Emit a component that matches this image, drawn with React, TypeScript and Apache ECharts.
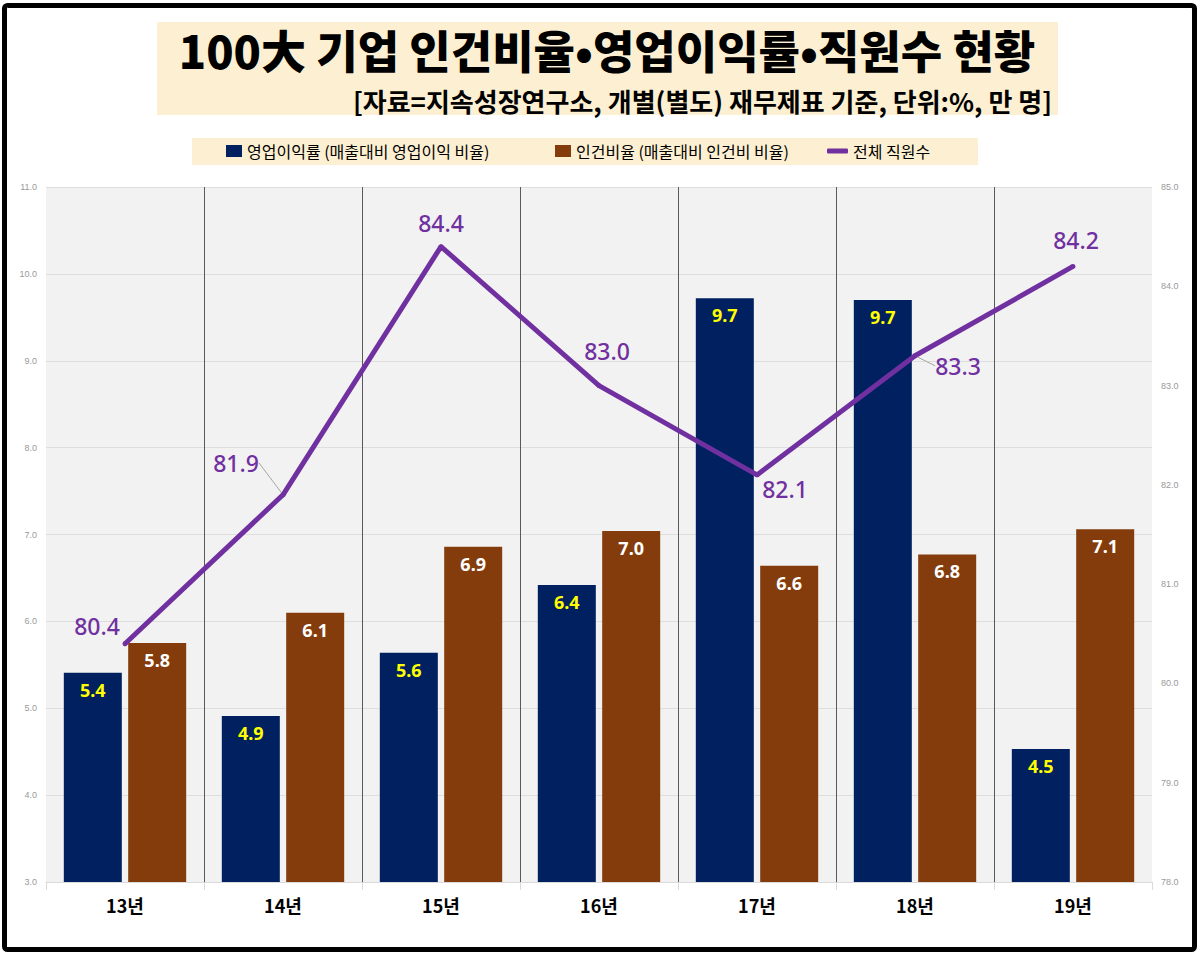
import React, { useEffect, useRef } from 'react';
import * as echarts from 'echarts';

const categories = ['13년', '14년', '15년', '16년', '17년', '18년', '19년'];
const operatingMargin = [5.41, 4.91, 5.64, 6.42, 9.72, 9.7, 4.53];
const laborCostRatio = [5.75, 6.1, 6.86, 7.04, 6.64, 6.77, 7.06];
const employees = [80.4, 81.9, 84.4, 83.0, 82.1, 83.3, 84.2];
const leaderLineIndexes = [1, 5];

const titleText = '100大 기업 인건비율•영업이익률•직원수 현황';
const subtitleText = '[자료=지속성장연구소, 개별(별도) 재무제표 기준, 단위:%, 만 명]';
const seriesNames = ['영업이익률 (매출대비 영업이익 비율)', '인건비율 (매출대비 인건비 비율)', '전체 직원수'];

const lineLabelOffsets = [[-28, 1], [-47, -13], [0, -5], [8, -16], [28, 33], [43, 29], [3, -7]];

const BLUE = '#002060';
const BROWN = '#843c0c';
const PURPLE = '#7030a0';
const CREAM = '#fdf0d2';

export default function App() {
  const ref = useRef<HTMLDivElement>(null);
  useEffect(() => {
    document.body.style.margin = '0';
    const chart = echarts.init(ref.current!, undefined, { renderer: 'svg' });
    const legendText = { fontSize: 16, color: '#000', fontFamily: '"Noto Sans CJK KR"' };
    chart.setOption({
      animation: false,
      backgroundColor: '#fff',
      graphic: [
        { type: 'rect', shape: { x: 157, y: 22, width: 901, height: 93 }, style: { fill: CREAM }, z: 0 },
        { type: 'rect', shape: { x: 192, y: 138, width: 786, height: 27 }, style: { fill: CREAM }, z: 0 },
        {
          type: 'text', x: 607, y: 49, z: 10,
          style: { text: titleText, align: 'center', verticalAlign: 'middle', fill: '#000', font: '900 45px "Noto Sans CJK KR"' },
        },
        {
          type: 'text', x: 1052, y: 100, z: 10,
          style: { text: subtitleText, align: 'right', verticalAlign: 'middle', fill: '#000', font: 'bold 26px "Noto Sans CJK KR"' },
        },
        {
          type: 'rect', z: 100,
          shape: { x: 4.5, y: 5.5, width: 1190, height: 944, r: 3 },
          style: { fill: 'none', stroke: '#000', lineWidth: 5 },
        },
      ],
      legend: [
        { data: [{ name: seriesNames[0], icon: 'rect' }], left: 226, top: 143, padding: 0, itemWidth: 16, itemHeight: 12, itemGap: 0, textStyle: legendText, selectedMode: false },
        { data: [{ name: seriesNames[1], icon: 'rect' }], left: 555, top: 143, padding: 0, itemWidth: 16, itemHeight: 12, itemGap: 0, textStyle: legendText, selectedMode: false },
        { data: [{ name: seriesNames[2], icon: 'roundRect' }], left: 827, top: 143, padding: 0, itemWidth: 21, itemHeight: 5, itemGap: 0, textStyle: legendText, selectedMode: false },
      ],
      grid: { left: 46, right: 48, top: 187, bottom: 74, show: true, backgroundColor: '#f2f2f2', borderWidth: 0 },
      xAxis: {
        type: 'category',
        data: categories,
        axisLine: { show: true, lineStyle: { color: '#d9d9d9' } },
        axisTick: { show: true, length: 8, lineStyle: { color: '#d9d9d9' } },
        axisLabel: { margin: 14, fontSize: 18, fontWeight: 'bold', color: '#000', fontFamily: '"Noto Sans CJK KR"' },
        splitLine: { show: true, showMinLine: false, showMaxLine: false, lineStyle: { color: '#595959', width: 1 } },
      },
      yAxis: [
        {
          type: 'value', min: 3, max: 11, interval: 1,
          axisLine: { show: false }, axisTick: { show: false },
          axisLabel: { margin: 9, fontSize: 9, color: '#999', formatter: (v: number) => v.toFixed(1) },
          splitLine: { show: true, lineStyle: { color: '#dedede', width: 1 } },
        },
        {
          type: 'value', min: 78, max: 85, interval: 1, position: 'right',
          axisLine: { show: false }, axisTick: { show: false },
          axisLabel: { margin: 9, fontSize: 9, color: '#999', formatter: (v: number) => v.toFixed(1) },
          splitLine: { show: false },
        },
      ],
      series: [
        {
          name: seriesNames[0], type: 'bar', data: operatingMargin, barWidth: 58, barGap: '11%',
          itemStyle: { color: BLUE },
          label: {
            show: true, position: 'insideTop', distance: 8, color: '#ffff00', fontSize: 18, fontWeight: 'bold',
            fontFamily: '"Noto Sans"', formatter: (p: any) => p.value.toFixed(1),
          },
        },
        {
          name: seriesNames[1], type: 'bar', data: laborCostRatio, barWidth: 58,
          itemStyle: { color: BROWN },
          label: {
            show: true, position: 'insideTop', distance: 8, color: '#ffffff', fontSize: 18, fontWeight: 'bold',
            fontFamily: '"Noto Sans"', formatter: (p: any) => p.value.toFixed(1),
          },
        },
        {
          name: seriesNames[2], type: 'line', yAxisIndex: 1, z: 5,
          data: employees.map((v, i) => ({
            value: v,
            labelLine: { show: leaderLineIndexes.includes(i) },
          })),
          symbol: 'circle', symbolSize: 5,
          itemStyle: { color: PURPLE },
          lineStyle: { color: PURPLE, width: 5 },
          label: {
            show: true, position: 'top', color: PURPLE, fontSize: 23, fontWeight: 500, fontFamily: '"Noto Sans"',
            formatter: (p: any) => Number(p.value).toFixed(1),
          },
          labelLine: { show: false, lineStyle: { color: '#a6a6a6', width: 1 } },
          labelLayout: (p: any) => ({ dx: lineLabelOffsets[p.dataIndex][0], dy: lineLabelOffsets[p.dataIndex][1] }),
        },
      ],
    });
    return () => chart.dispose();
  }, []);
  return <div ref={ref} style={{ position: 'fixed', left: 0, top: 0, width: 1200, height: 956 }} />;
}
